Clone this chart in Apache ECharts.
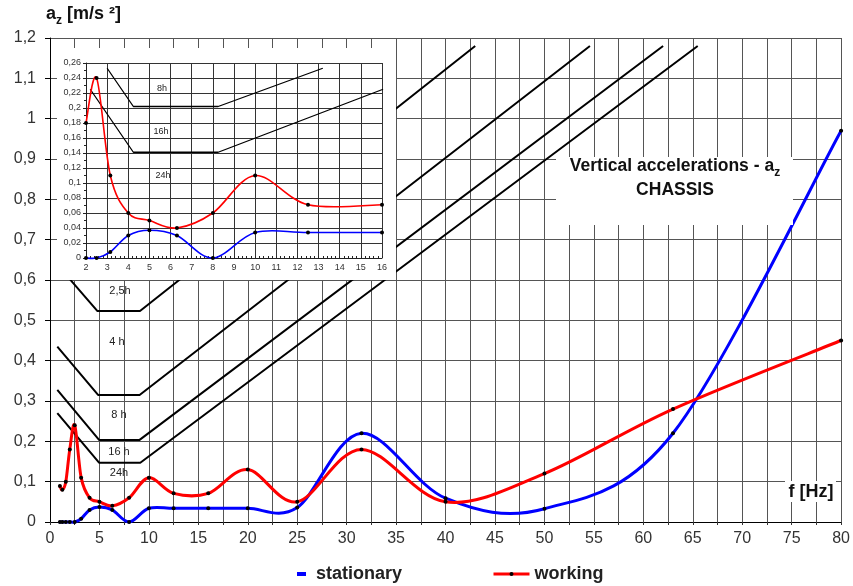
<!DOCTYPE html>
<html><head><meta charset="utf-8">
<script src="https://cdn.jsdelivr.net/npm/echarts@6/dist/echarts.min.js"></script>
<style>html,body{margin:0;padding:0;background:#fff}#c{width:853px;height:586px}</style>
</head><body><div id="c"></div>
<script>
// 1/3-octave centre frequencies [Hz]
const freqs = [1, 1.25, 1.6, 2, 2.5, 3.15, 4, 5, 6.3, 8, 10, 12.5, 16, 20, 25, 31.5, 40, 50, 63, 80];
// vertical acceleration a_z [m/s2]
const stationary = [0, 0, 0, 0, 0, 0.008, 0.03, 0.037, 0.03, 0, 0.034, 0.034, 0.034, 0.034, 0.036, 0.22, 0.059, 0.033, 0.22, 0.97];
const working    = [0.089, 0.08, 0.1, 0.18, 0.24, 0.11, 0.06, 0.05, 0.04, 0.06, 0.11, 0.071, 0.071, 0.13, 0.05, 0.18, 0.05, 0.12, 0.28, 0.45];
// exposure limit boundaries (main chart) [f, a]
const limit25h = [[2.0, 0.602], [4.8, 0.523], [9.1, 0.523], [43, 1.18]];
const limit4h  = [[0.74, 0.435], [4.86, 0.315], [9.06, 0.315], [54.6, 1.18]];
const limit8h  = [[0.74, 0.3275], [4.96, 0.2035], [9.06, 0.2035], [62.0, 1.18]];
const limit16h = [[0.74, 0.27], [4.96, 0.147], [9.13, 0.147], [65.5, 1.18]];
// exposure limit boundaries (inset) [f, a]
const inset8h  = [[3.0, 0.253], [4.24, 0.202], [8.25, 0.202], [13.2, 0.253]];
const inset16h = [[2.2, 0.225], [4.24, 0.141], [8.25, 0.141], [16.05, 0.225]];
// axes
const mainX = {min: 0, max: 80, step: 5};
const mainY = {min: 0, max: 1.2, step: 0.1};
const insetX = {min: 2, max: 16, step: 1};
const insetY = {min: 0, max: 0.26, step: 0.02};

const pairs = (xs, ys) => xs.map((x, i) => [x, ys[i]]);
const insetPairs = ys => freqs.map((f, i) => [f, ys[i]]).filter(p => p[0] >= insetX.min && p[0] <= insetX.max);
const comma = v => String(+v.toFixed(3)).replace('.', ',');
const FF = 'Liberation Sans, Arial, sans-serif';

const chart = echarts.init(document.getElementById('c'));
const limitLine = (data, xi, w) => ({
  type: 'line', data, xAxisIndex: xi, yAxisIndex: xi, symbol: 'none', silent: true,
  lineStyle: {color: '#000', width: w}, z: xi ? 16 : 2, animation: false
});
// markers (black dots) – also provides legend entries
const markers = (name, data, xi, ss) => ({
  type: 'line', name, data, xAxisIndex: xi, yAxisIndex: xi,
  symbol: 'circle', symbolSize: ss, showSymbol: true,
  itemStyle: {color: '#000'}, lineStyle: {width: 0, opacity: 0}, z: xi ? 18 : 4, animation: false
});
// Excel-like (Catmull-Rom) smoothed curve through the data points, drawn via the axes' scales
const spline = (name, data, color, xi, w) => ({
  type: 'custom', name, data, xAxisIndex: xi, yAxisIndex: xi, silent: true, animation: false,
  z: xi ? 17 : 3,
  renderItem(params, api) {
    if (params.dataIndexInside !== 0) return null;
    const p = data.map(d => api.coord(d));
    let path = 'M' + p[0][0] + ',' + p[0][1];
    for (let i = 0; i < p.length - 1; i++) {
      const p0 = p[Math.max(i - 1, 0)], p1 = p[i], p2 = p[i + 1], p3 = p[Math.min(i + 2, p.length - 1)];
      const c1x = p1[0] + (p2[0] - p0[0]) / 6, c1y = p1[1] + (p2[1] - p0[1]) / 6;
      const c2x = p2[0] - (p3[0] - p1[0]) / 6, c2y = p2[1] - (p3[1] - p1[1]) / 6;
      path += ' C' + c1x + ',' + c1y + ' ' + c2x + ',' + c2y + ' ' + p2[0] + ',' + p2[1];
    }
    return {type: 'path', shape: {pathData: path},
            style: {fill: 'none', stroke: color, lineWidth: w, lineJoin: 'round', lineCap: 'round'}};
  }
});
const txt = (x, y, text, size, bold) => ({type: 'text', z: 20, x, y, silent: true,
  style: {text, align: 'center', verticalAlign: 'middle', fontSize: size, fontWeight: bold ? 'bold' : 'normal', fontFamily: FF, fill: bold ? '#111' : '#222'}});

chart.setOption({
  animation: false,
  backgroundColor: '#fff',
  grid: [
    {left: 50, right: 8, top: 38, bottom: 64, z: 0},
    {left: 86, right: 471, top: 63, bottom: 328, z: 15}
  ],
  xAxis: [
    {type: 'value', gridIndex: 0, min: mainX.min, max: mainX.max, interval: mainX.step,
     axisLine: {show: true, onZero: false, lineStyle: {color: '#000', width: 1}},
     axisTick: {show: true, length: 3, lineStyle: {color: '#333'}},
     minorTick: {show: true, splitNumber: 2, length: 3, lineStyle: {color: '#333'}},
     splitLine: {show: true, lineStyle: {color: '#555', width: 1}},
     minorSplitLine: {show: true, lineStyle: {color: '#555', width: 1}},
     axisLabel: {fontSize: 16, color: '#333', fontFamily: FF, margin: 9}},
    {type: 'value', gridIndex: 1, min: insetX.min, max: insetX.max, interval: insetX.step, z: 15,
     axisLine: {show: true, onZero: false, lineStyle: {color: '#222', width: 1}},
     axisTick: {show: true, length: 2, inside: true, lineStyle: {color: '#222'}},
     minorTick: {show: true, splitNumber: 5, length: 2, lineStyle: {color: '#222'}},
     splitLine: {show: true, lineStyle: {color: '#333', width: 1}},
     axisLabel: {fontSize: 9, color: '#333', fontFamily: FF, margin: 5}}
  ],
  yAxis: [
    {type: 'value', gridIndex: 0, min: mainY.min, max: mainY.max, interval: mainY.step,
     axisLine: {show: true, lineStyle: {color: '#000', width: 1}},
     axisTick: {show: true, length: 5, lineStyle: {color: '#000'}},
     splitLine: {show: true, lineStyle: {color: '#555', width: 1}},
     axisLabel: {fontSize: 16, color: '#333', fontFamily: FF, margin: 14, formatter: comma}},
    {type: 'value', gridIndex: 1, min: insetY.min, max: insetY.max, interval: insetY.step, z: 15,
     axisLine: {show: true, lineStyle: {color: '#222', width: 1}},
     axisTick: {show: true, length: 3, lineStyle: {color: '#222'}},
     minorTick: {show: true, splitNumber: 2, length: 2, lineStyle: {color: '#222'}},
     splitLine: {show: true, lineStyle: {color: '#333', width: 1}},
     axisLabel: {fontSize: 9, color: '#333', fontFamily: FF, margin: 5, formatter: comma}}
  ],
  legend: [
    {left: 297, top: 565, padding: 0, itemWidth: 9, itemHeight: 4, formatter: ' {name}', selectedMode: false,
     data: [{name: 'stationary', icon: 'rect', itemStyle: {color: '#0000ff'}}],
     textStyle: {fontSize: 18, fontWeight: 'bold', color: '#222', fontFamily: FF}},
    {left: 492, top: 565, padding: 0, itemWidth: 36, itemHeight: 5, selectedMode: false,
     data: ['working'], lineStyle: {color: '#ff0000', width: 3, opacity: 1},
     textStyle: {fontSize: 18, fontWeight: 'bold', color: '#222', fontFamily: FF}}
  ],
  graphic: [
    {type: 'rect', z: 10, silent: true, shape: {x: 57, y: 48, width: 339, height: 232}, style: {fill: '#fff'}},
    {type: 'rect', z: 10, silent: true, shape: {x: 556, y: 157, width: 237, height: 68}, style: {fill: '#fff'}},
    {type: 'rect', z: 10, silent: true, shape: {x: 785, y: 481, width: 51, height: 21}, style: {fill: '#fff'}},
    {type: 'text', z: 20, x: 675, y: 168, silent: true, style: {text: '{a|Vertical accelerations - a}{s|z}', align: 'center', verticalAlign: 'middle',
      rich: {a: {fontSize: 17.5, fontWeight: 'bold', fontFamily: FF, fill: '#111', lineHeight: 22, verticalAlign: 'top'},
             s: {fontSize: 12, fontWeight: 'bold', fontFamily: FF, fill: '#111', lineHeight: 12, verticalAlign: 'bottom'}}}},
    txt(675, 190, 'CHASSIS', 17.5, true),
    txt(811, 492, 'f [Hz]', 18, true),
    {type: 'text', z: 20, x: 46, y: 16, silent: true, style: {text: '{a|a}{s|z}{a| [m/s ²]}', align: 'left', verticalAlign: 'middle',
      rich: {a: {fontSize: 18, fontWeight: 'bold', fontFamily: FF, fill: '#111', lineHeight: 22, verticalAlign: 'top'},
             s: {fontSize: 12, fontWeight: 'bold', fontFamily: FF, fill: '#111', lineHeight: 12, verticalAlign: 'bottom'}}}},
    // limit labels main
    txt(120, 291, '2,5h', 11), txt(117, 342, '4 h', 11), txt(119, 415, '8 h', 11),
    txt(119, 452, '16 h', 11), txt(119, 473, '24h', 11),
    // limit labels inset
    txt(162, 89, '8h', 9), txt(161, 132, '16h', 9), txt(163, 176, '24h', 9)
  ],
  series: [
    limitLine(limit25h, 0, 2), limitLine(limit4h, 0, 2), limitLine(limit8h, 0, 2), limitLine(limit16h, 0, 2),
    spline('stationary curve', pairs(freqs, stationary), '#0000ff', 0, 3),
    spline('working curve', pairs(freqs, working), '#ff0000', 0, 3),
    markers('stationary', pairs(freqs, stationary), 0, 4),
    markers('working', pairs(freqs, working), 0, 4),
    limitLine(inset8h, 1, 1.3), limitLine(inset16h, 1, 1.3),
    spline('stationary inset curve', insetPairs(stationary), '#0000ff', 1, 1.6),
    spline('working inset curve', insetPairs(working), '#ff0000', 1, 1.6),
    markers('stationary (inset)', insetPairs(stationary), 1, 4),
    markers('working (inset)', insetPairs(working), 1, 4)
  ]
});
</script></body></html>
